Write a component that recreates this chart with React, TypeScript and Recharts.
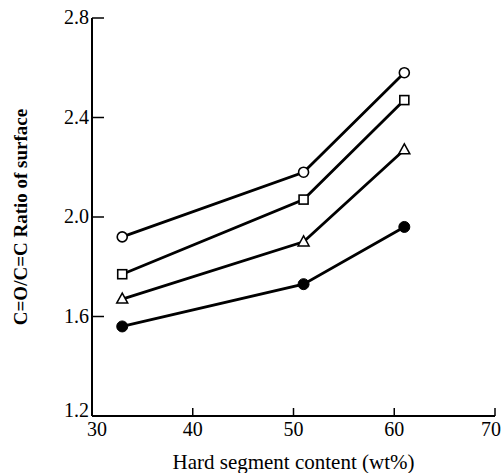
import { LineChart, Line, XAxis, YAxis, Label } from "recharts";

// hard segment content (wt%)
const contents = [33, 51, 61];
// C=O/C=C surface ratio for each sample series
const openCircle = [1.92, 2.18, 2.58];
const openSquare = [1.77, 2.07, 2.47];
const openTriangle = [1.67, 1.9, 2.27];
const filledCircle = [1.56, 1.73, 1.96];

const xTicks = [30, 40, 50, 60, 70];
const yTicks = [1.2, 1.6, 2.0, 2.4, 2.8];

const data = contents.map((c, i) => ({
  content: c,
  circle: openCircle[i],
  square: openSquare[i],
  triangle: openTriangle[i],
  filled: filledCircle[i],
}));

const FONT = "'Liberation Serif', 'Times New Roman', serif";

type Shape = "circle" | "square" | "triangle" | "filled";

function marker(shape: Shape) {
  return (p: any) => {
    const { cx, cy, index } = p;
    if (cx == null || cy == null) return <g key={index} />;
    if (shape === "square")
      return (
        <rect key={index} x={cx - 4.5} y={cy - 4.5} width={9} height={9}
          fill="#fff" stroke="#000" strokeWidth={1.6} />
      );
    if (shape === "triangle")
      return (
        <polygon key={index}
          points={`${cx},${cy - 6} ${cx - 5.5},${cy + 4} ${cx + 5.5},${cy + 4}`}
          fill="#fff" stroke="#000" strokeWidth={1.5} />
      );
    if (shape === "filled")
      return <circle key={index} cx={cx} cy={cy} r={5.5} fill="#000" stroke="#000" />;
    return <circle key={index} cx={cx} cy={cy} r={5} fill="#fff" stroke="#000" strokeWidth={1.6} />;
  };
}

function XTick(props: any) {
  const { x, y, payload } = props;
  // first label clears the y axis, last one stays inside the page
  const shift = payload.value === 30 ? 5 : payload.value === 70 ? -4 : 0;
  return (
    <g>
      <line x1={x} y1={y} x2={x} y2={y - 8} stroke="#000" strokeWidth={1.5} />
      <text x={x + shift} y={y + 20} textAnchor="middle" fontSize={20} fontFamily={FONT} fill="#000">
        {payload.value}
      </text>
    </g>
  );
}

function YTick(props: any) {
  const { x, y, payload } = props;
  // the bottom label sits a little higher, clear of the x labels
  const lift = payload.value === yTicks[0] ? -5 : 0;
  return (
    <g>
      <line x1={x} y1={y} x2={x + 12} y2={y} stroke="#000" strokeWidth={1.5} />
      <text x={x - 3} y={y + 6 + lift} textAnchor="end" fontSize={20} fontFamily={FONT} fill="#000">
        {Number(payload.value).toFixed(1)}
      </text>
    </g>
  );
}

export default function App() {
  return (
    <div style={{ position: "absolute", left: 0, top: 0, background: "#fff" }}>
      <LineChart width={504} height={473} data={data}
        margin={{ top: 18, right: 9, bottom: 0, left: 0 }}>
        <XAxis dataKey="content" type="number" domain={[30, 70]} ticks={xTicks}
          interval={0} height={57} tickSize={0} tickMargin={0} tick={<XTick />}
          axisLine={{ stroke: "#000", strokeWidth: 2 }} tickLine={false}>
          <Label value="Hard segment content (wt%)" position="insideBottom" offset={4}
            style={{ fontFamily: FONT, fontSize: 21, fill: "#000" }} />
        </XAxis>
        <YAxis type="number" domain={[1.2, 2.8]} ticks={yTicks} interval={0}
          width={92} tickSize={0} tickMargin={0} tick={<YTick />}
          axisLine={{ stroke: "#000", strokeWidth: 2 }} tickLine={false}>
          <Label value="C=O/C=C Ratio of surface" angle={-90} position="insideLeft" offset={20}
            style={{ fontFamily: FONT, fontSize: 19, fontWeight: "bold", fill: "#000", textAnchor: "middle" }} />
        </YAxis>
        <Line dataKey="circle" stroke="#000" strokeWidth={2.8} dot={marker("circle")} isAnimationActive={false} />
        <Line dataKey="square" stroke="#000" strokeWidth={2.8} dot={marker("square")} isAnimationActive={false} />
        <Line dataKey="triangle" stroke="#000" strokeWidth={2.8} dot={marker("triangle")} isAnimationActive={false} />
        <Line dataKey="filled" stroke="#000" strokeWidth={2.8} dot={marker("filled")} isAnimationActive={false} />
      </LineChart>
    </div>
  );
}
